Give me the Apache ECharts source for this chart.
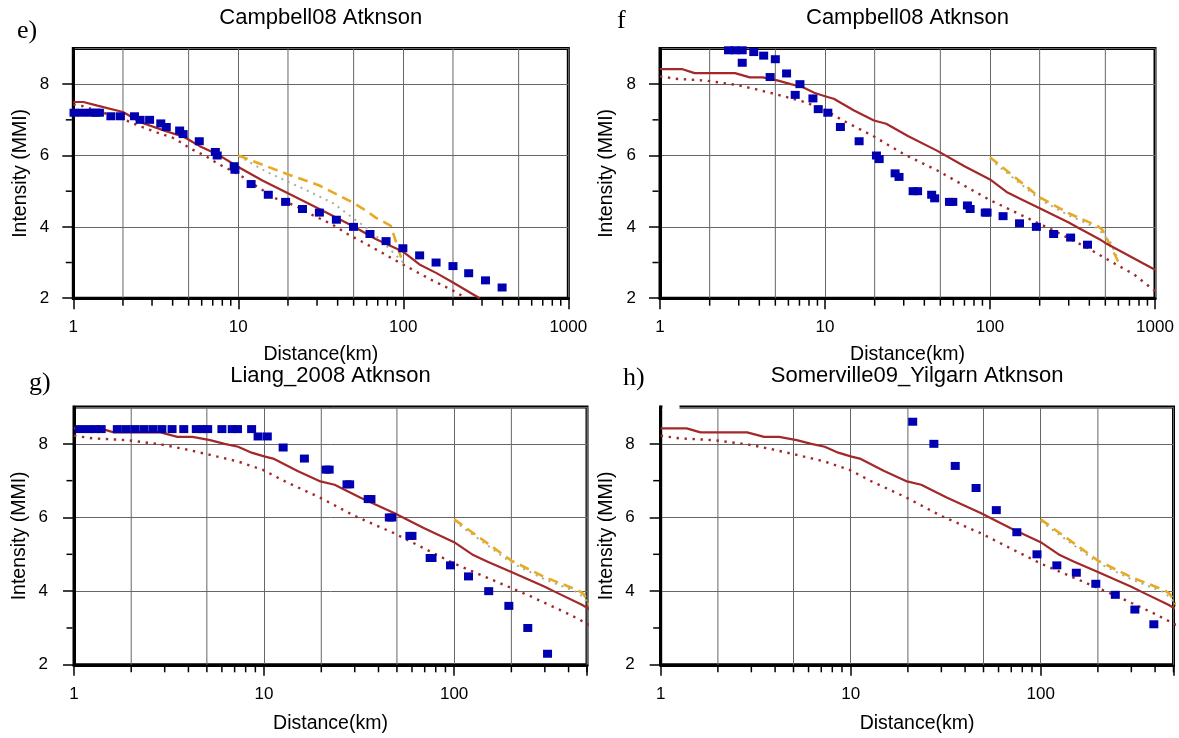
<!DOCTYPE html>
<html><head><meta charset="utf-8">
<script src="https://cdn.jsdelivr.net/npm/echarts@6/dist/echarts.min.js"></script>
<style>html,body{margin:0;padding:0;background:#fff}#c{width:1179px;height:738px}</style>
</head><body><div id="c"></div>
<script>
// ---------------- data (distance km, intensity MMI) ----------------
const titles = ['Campbell08 Atknson', 'Campbell08 Atknson', 'Liang_2008 Atknson', 'Somerville09_Yilgarn Atknson'];
const letters = ['e)', 'f', 'g)', 'h)'];
const xMaxes = [1000, 1000, 500, 500];
const xTickLabels = [1, 10, 100, 1000];

const eObs = [[1.01,7.2],[1.13,7.2],[1.27,7.2],[1.37,7.2],[1.44,7.2],[1.69,7.1],[1.93,7.1],[2.35,7.1],[2.54,7.0],[2.9,7.0],[3.39,6.9],[3.66,6.8],[4.41,6.7],[4.63,6.6],[5.8,6.4],[7.26,6.1],[7.45,6.0],[9.44,5.7],[9.54,5.6],[11.96,5.2],[15.2,4.9],[19.35,4.7],[24.5,4.5],[31,4.4],[39.3,4.2],[49.9,4.0],[62.8,3.8],[78.6,3.6],[99.4,3.4],[125.6,3.2],[158,3.0],[200,2.9],[249,2.7],[315,2.5],[397,2.3]];
const eSolid = [[1,7.5],[1.15,7.5],[1.4,7.4],[2,7.22],[2.6,6.92],[3.6,6.69],[4.7,6.52],[5.1,6.42],[5.8,6.27],[7.5,6.03],[10,5.68],[14,5.3],[20,4.94],[31,4.5],[50,4.01],[68,3.66],[100,3.3],[110,3.15],[127,2.93],[158,2.71],[200,2.44],[290,2.0]];
const eDotted = [[1,7.43],[1.15,7.38],[2,7.02],[2.6,6.8],[3.2,6.65],[4,6.5],[4.4,6.39],[5.2,6.18],[6.3,5.99],[7.6,5.76],[10,5.48],[13.2,5.11],[17,4.79],[22,4.6],[28.5,4.32],[37,4.07],[47.5,3.76],[57,3.57],[100,2.94],[150,2.5],[205,2.19],[240,2.0]];
const eDashed = [[10,6.0],[20,5.47],[31,5.16],[50,4.67],[61,4.42],[68,4.26],[84,4.03],[100,2.95]];
const eGray = [[10,6.0],[15,5.53],[24,5.1],[38,4.65],[50,4.23],[65,3.85],[100,3.0]];

const fObs = [[2.6,8.95],[2.85,8.95],[3.15,8.95],[3.7,8.9],[4.25,8.8],[5.0,8.7],[3.15,8.6],[4.65,8.2],[5.85,8.3],[7.05,8.0],[6.6,7.7],[8.45,7.6],[9.1,7.3],[10.4,7.2],[12.4,6.8],[16.1,6.4],[20.5,6.0],[21.3,5.9],[26.6,5.5],[28.1,5.4],[34.2,5.0],[36.4,5.0],[44.3,4.9],[46.2,4.8],[56.8,4.7],[59.5,4.7],[73,4.6],[75.8,4.5],[93.6,4.4],[96,4.4],[120,4.3],[151,4.1],[191,4.0],[243,3.8],[308,3.7],[390,3.5]];
const gObs = [[1.07,8.4],[1.19,8.4],[1.29,8.4],[1.39,8.4],[1.69,8.4],[1.88,8.4],[2.09,8.4],[2.33,8.4],[2.6,8.4],[2.9,8.4],[3.28,8.4],[3.78,8.4],[4.4,8.4],[4.75,8.4],[5.05,8.4],[6.0,8.4],[6.8,8.4],[7.25,8.4],[8.6,8.4],[9.3,8.2],[10.4,8.2],[12.6,7.9],[16.3,7.6],[21.2,7.3],[22,7.3],[27.3,6.9],[28.2,6.9],[35.3,6.5],[36.5,6.5],[45.6,6.0],[47,6.0],[58.5,5.5],[60,5.5],[74.8,4.9],[76.5,4.9],[95.7,4.7],[119,4.4],[152,4.0],[194,3.6],[244,3.0],[310,2.3]];
const hObs = [[21.2,8.6],[27.4,8.0],[35.5,7.4],[45.7,6.8],[58.4,6.2],[74.9,5.6],[95.6,5.0],[121.6,4.7],[154,4.5],[195,4.2],[247,3.9],[313,3.5],[394,3.1]];

const atkSolid = [[1,8.42],[1.37,8.42],[1.62,8.31],[2.85,8.31],[3.5,8.19],[4.2,8.19],[5.2,8.1],[6.2,8.0],[7.3,7.92],[8.6,7.76],[10,7.66],[11.3,7.59],[15,7.26],[19.8,6.98],[23.5,6.89],[32,6.54],[48,6.13],[70,5.7],[100,5.33],[126,4.98],[150,4.8],[200,4.52],[300,4.12],[340,3.98],[470,3.63],[500,3.55],[1000,2.8]];
const atkDotted = [[1,8.22],[1.25,8.15],[1.9,8.1],[2.9,7.98],[3.8,7.86],[5.2,7.7],[7.3,7.52],[9.8,7.3],[13,6.97],[19.5,6.55],[30,6.04],[48,5.58],[72,5.12],[100,4.75],[150,4.36],[250,3.87],[400,3.38],[500,3.12],[750,2.66],[1000,2.2]];
const atkDashed = [[100,5.95],[200,4.83],[300,4.38],[450,4.02],[480,3.92],[610,2.95]];
const atkGray = [[100,5.9],[200,4.77],[300,4.32],[450,3.96],[540,3.55],[600,3.05]];

// ---------------- layout / style ----------------
const FONT = '"Liberation Sans", Arial, Helvetica, sans-serif';
const SERIF = '"Liberation Serif", "Times New Roman", serif';
const RED = '#a3282a', BLUE = '#0000b0', ORANGE = '#e8aa22', GRAY = '#a9ae9c', GRID = '#666';

const layout = [
  {left:73.3, top:48.5, width:495, height:249.7, xNameGap:46, yNameGap:43, yLabelMargin:24, titleY:17.5, letterX:17, letterY:31.5},
  {left:660, top:48.5, width:495, height:249.7, xNameGap:46, yNameGap:43, yLabelMargin:24, titleY:17.5, letterX:617, letterY:21.5},
  {left:74, top:407, width:513, height:257.8, xNameGap:49, yNameGap:44, yLabelMargin:26, titleY:376, letterX:29, letterY:383.5},
  {left:660.7, top:407, width:512.8, height:257.8, xNameGap:49, yNameGap:44, yLabelMargin:26, titleY:376, letterX:623, letterY:378.5}
];
const panelData = [
  {obs:eObs, solid:eSolid, dotted:eDotted, dashed:eDashed, gray:eGray},
  {obs:fObs, solid:atkSolid, dotted:atkDotted, dashed:atkDashed, gray:atkGray},
  {obs:gObs, solid:atkSolid, dotted:atkDotted, dashed:atkDashed, gray:atkGray},
  {obs:hObs, solid:atkSolid, dotted:atkDotted, dashed:atkDashed, gray:atkGray}
];

function minorXTicks(max) {
  const out = [];
  for (let p = 1; p < max; p *= 10) for (let m = 2; m <= 9; m++) { if (m * p <= max) out.push([m * p, 2]); }
  return out;
}

const grids = [], xAxes = [], yAxes = [], series = [], graphics = [];
layout.forEach((L, i) => {
  const D = panelData[i];
  grids.push({left:L.left, top:L.top, width:L.width, height:L.height, show:true, borderColor:'#000', borderWidth:3, backgroundColor:'transparent'});
  xAxes.push({
    gridIndex:i, type:'log', logBase:10, min:1, max:xMaxes[i],
    axisLine:{show:true, onZero:false, lineStyle:{color:'#000', width:3}},
    axisTick:{show:true, inside:false, length:11, lineStyle:{color:'#000', width:1.5}},
    axisLabel:{color:'#000', fontSize:17, fontFamily:FONT, margin:21,
      formatter: v => { const r = Math.round(v); return xTickLabels.indexOf(r) >= 0 ? String(r) : ''; }},
    splitLine:{show:true, lineStyle:{color:GRID, width:1}},
    name:'Distance(km)', nameLocation:'middle', nameGap:L.xNameGap,
    nameTextStyle:{color:'#000', fontSize:19.5, fontFamily:FONT}
  });
  yAxes.push({
    gridIndex:i, type:'value', min:2, max:9, interval:2,
    axisLine:{show:true, onZero:false, lineStyle:{color:'#000', width:3}},
    axisTick:{show:true, inside:false, length:11, lineStyle:{color:'#000', width:1.5}},
    axisLabel:{color:'#000', fontSize:17, fontFamily:FONT, margin:L.yLabelMargin, showMaxLabel:false},
    splitLine:{show:true, lineStyle:{color:GRID, width:1}},
    name:'Intensity (MMI)', nameLocation:'middle', nameGap:L.yNameGap, nameRotate:90,
    nameTextStyle:{color:'#000', fontSize:19.5, fontFamily:FONT}
  });
  // minor x ticks + gridlines at 2,5 x 10^n
  series.push({
    type:'custom', xAxisIndex:i, yAxisIndex:i, silent:true, z:1, animation:false,
    data: minorXTicks(xMaxes[i]),
    renderItem: (params, api) => {
      const v = api.value(0);
      const p = api.coord([v, 2]);
      const t = api.coord([v, 9]);
      const m = Math.round(v / Math.pow(10, Math.floor(Math.log10(v) + 1e-9)));
      const ch = [{type:'line', shape:{x1:p[0], y1:p[1] + 1.5, x2:p[0], y2:p[1] + 7.5}, style:{stroke:'#000', lineWidth:1.5}}];
      if (m === 2 || m === 5) ch.push({type:'line', shape:{x1:p[0], y1:p[1], x2:p[0], y2:t[1]}, style:{stroke:GRID, lineWidth:1}});
      return {type:'group', children:ch};
    }
  });
  // minor y ticks at 3,5,7
  series.push({
    type:'custom', xAxisIndex:i, yAxisIndex:i, silent:true, z:1, animation:false,
    data: [[1,3],[1,5],[1,7]],
    renderItem: (params, api) => {
      const p = api.coord([1, api.value(1)]);
      return {type:'line', shape:{x1:p[0] - 1.5, y1:p[1], x2:p[0] - 7.5, y2:p[1]}, style:{stroke:'#000', lineWidth:1.5}};
    }
  });
  series.push({type:'line', xAxisIndex:i, yAxisIndex:i, data:D.gray, symbol:'none', z:3,
    lineStyle:{color:GRAY, width:2, type:[2,5]}});
  series.push({type:'line', xAxisIndex:i, yAxisIndex:i, data:D.dashed, symbol:'none', z:4,
    lineStyle:{color:ORANGE, width:2.6, type:[10,6]}});
  series.push({type:'line', xAxisIndex:i, yAxisIndex:i, data:D.dotted, symbol:'none', z:3,
    lineStyle:{color:RED, width:2.4, type:[2.4,5.6]}});
  series.push({type:'line', xAxisIndex:i, yAxisIndex:i, data:D.solid, symbol:'none', z:4,
    lineStyle:{color:RED, width:2.2}});
  series.push({type:'scatter', xAxisIndex:i, yAxisIndex:i, data:D.obs, symbol:'rect', symbolSize:[9,8], z:5,
    itemStyle:{color:BLUE, opacity:1}});

  graphics.push({type:'text', x:L.left + L.width / 2, y:L.titleY, z:10,
    style:{text:titles[i], fill:'#000', font:'22px ' + FONT, align:'center', verticalAlign:'middle', textAlign:'center', textVerticalAlign:'middle'}});
  graphics.push({type:'text', x:L.letterX, y:L.letterY, z:10,
    style:{text:letters[i], fill:'#000', font:'26px ' + SERIF, align:'left', verticalAlign:'middle', textAlign:'left', textVerticalAlign:'middle'}});
});
// small white gap on the top frame of panel h
graphics.push({type:'rect', x:662.5, y:403, z:20, shape:{width:17, height:7}, style:{fill:'#fff'}});

const chart = echarts.init(document.getElementById('c'));
chart.setOption({
  animation:false,
  backgroundColor:'#fff',
  grid:grids, xAxis:xAxes, yAxis:yAxes, series:series, graphic:graphics
});
</script></body></html>
